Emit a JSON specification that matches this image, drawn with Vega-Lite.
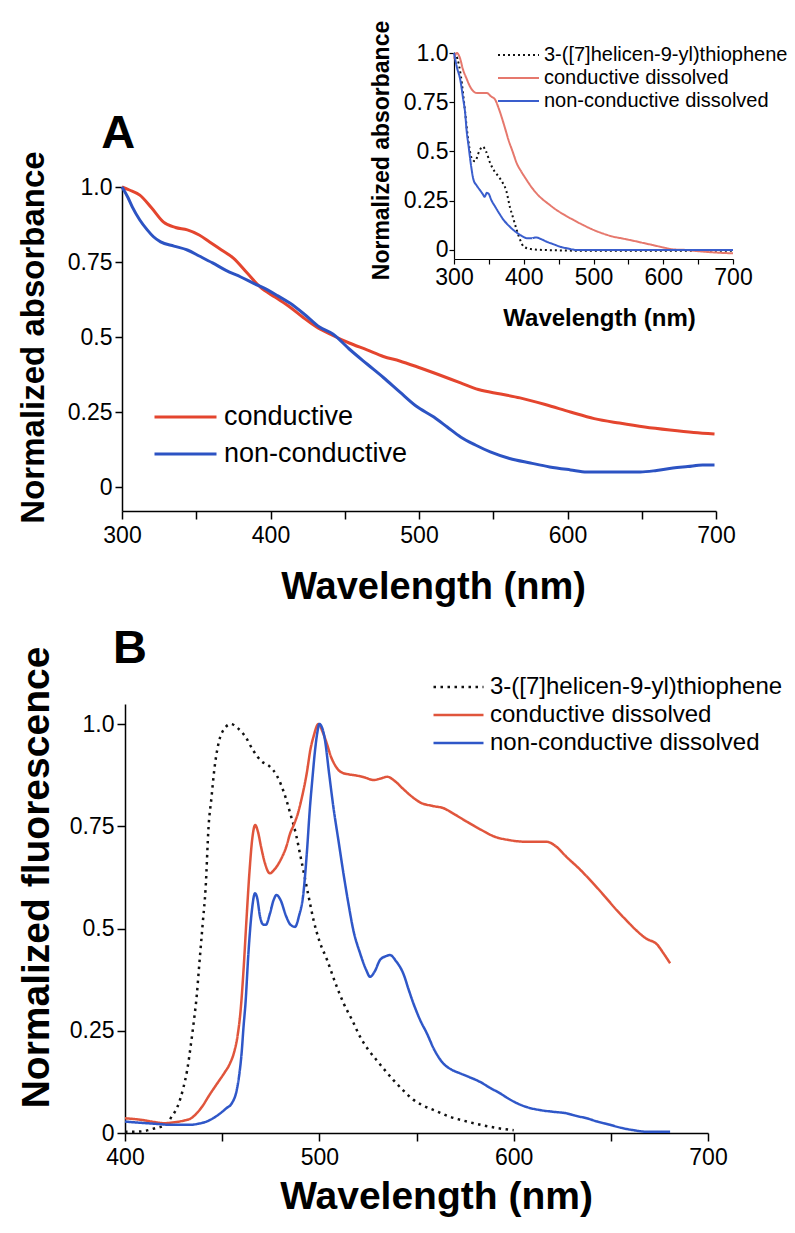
{
"$schema": "https://vega.github.io/schema/vega-lite/v6.json",
"width": 795, "height": 1233,
"autosize": {"type": "none"},
"padding": 0,
"background": "white",
"config": {
  "view": {"stroke": null},
  "axis": {"grid": false, "domainColor": "#000", "domainWidth": 1.5, "tickColor": "#000", "tickWidth": 1.5, "labelColor": "#000", "titleColor": "#000", "labelFont": "Liberation Sans", "titleFont": "Liberation Sans", "labelFontSize": 23, "titleFontWeight": "bold", "labelOverlap": false, "labelBound": false, "labelFlush": false},
  "legend": {"padding": 0, "rowPadding": 0, "labelFont": "Liberation Sans", "labelColor": "#000", "symbolType": "stroke", "labelLimit": 500}
},
"datasets": {
"absorbance": [
{"series":"conductive","wavelength":300,"value":1.0},{"series":"conductive","wavelength":305,"value":0.99},{"series":"conductive","wavelength":312,"value":0.973},{"series":"conductive","wavelength":320,"value":0.93},{"series":"conductive","wavelength":328,"value":0.883},{"series":"conductive","wavelength":336,"value":0.865},{"series":"conductive","wavelength":344,"value":0.857},{"series":"conductive","wavelength":352,"value":0.84},{"series":"conductive","wavelength":359,"value":0.817},{"series":"conductive","wavelength":367,"value":0.79},{"series":"conductive","wavelength":375,"value":0.763},{"series":"conductive","wavelength":384,"value":0.715},{"series":"conductive","wavelength":393,"value":0.667},{"series":"conductive","wavelength":403,"value":0.633},{"series":"conductive","wavelength":413,"value":0.6},{"series":"conductive","wavelength":422,"value":0.565},{"series":"conductive","wavelength":431,"value":0.533},{"series":"conductive","wavelength":442,"value":0.505},{"series":"conductive","wavelength":453,"value":0.48},{"series":"conductive","wavelength":465,"value":0.457},{"series":"conductive","wavelength":476,"value":0.435},{"series":"conductive","wavelength":487,"value":0.42},{"series":"conductive","wavelength":499,"value":0.4},{"series":"conductive","wavelength":513,"value":0.375},{"series":"conductive","wavelength":528,"value":0.347},{"series":"conductive","wavelength":540,"value":0.325},{"series":"conductive","wavelength":555,"value":0.31},{"series":"conductive","wavelength":568,"value":0.297},{"series":"conductive","wavelength":585,"value":0.275},{"series":"conductive","wavelength":602,"value":0.25},{"series":"conductive","wavelength":618,"value":0.228},{"series":"conductive","wavelength":635,"value":0.213},{"series":"conductive","wavelength":652,"value":0.2},{"series":"conductive","wavelength":669,"value":0.19},{"series":"conductive","wavelength":685,"value":0.182},{"series":"conductive","wavelength":699,"value":0.177},
{"series":"non-conductive","wavelength":300,"value":1.0},{"series":"non-conductive","wavelength":304,"value":0.965},{"series":"non-conductive","wavelength":307,"value":0.933},{"series":"non-conductive","wavelength":312,"value":0.89},{"series":"non-conductive","wavelength":317,"value":0.857},{"series":"non-conductive","wavelength":321,"value":0.835},{"series":"non-conductive","wavelength":326,"value":0.817},{"series":"non-conductive","wavelength":335,"value":0.803},{"series":"non-conductive","wavelength":344,"value":0.79},{"series":"non-conductive","wavelength":352,"value":0.77},{"series":"non-conductive","wavelength":361,"value":0.747},{"series":"non-conductive","wavelength":370,"value":0.722},{"series":"non-conductive","wavelength":380,"value":0.7},{"series":"non-conductive","wavelength":389,"value":0.678},{"series":"non-conductive","wavelength":398,"value":0.657},{"series":"non-conductive","wavelength":405,"value":0.637},{"series":"non-conductive","wavelength":413,"value":0.613},{"series":"non-conductive","wavelength":423,"value":0.575},{"series":"non-conductive","wavelength":433,"value":0.533},{"series":"non-conductive","wavelength":442,"value":0.51},{"series":"non-conductive","wavelength":453,"value":0.46},{"series":"non-conductive","wavelength":465,"value":0.41},{"series":"non-conductive","wavelength":476,"value":0.365},{"series":"non-conductive","wavelength":487,"value":0.317},{"series":"non-conductive","wavelength":498,"value":0.27},{"series":"non-conductive","wavelength":510,"value":0.233},{"series":"non-conductive","wavelength":519,"value":0.2},{"series":"non-conductive","wavelength":528,"value":0.167},{"series":"non-conductive","wavelength":538,"value":0.14},{"series":"non-conductive","wavelength":548,"value":0.117},{"series":"non-conductive","wavelength":561,"value":0.095},{"series":"non-conductive","wavelength":575,"value":0.08},{"series":"non-conductive","wavelength":588,"value":0.067},{"series":"non-conductive","wavelength":602,"value":0.057},{"series":"non-conductive","wavelength":613,"value":0.05},{"series":"non-conductive","wavelength":630,"value":0.05},{"series":"non-conductive","wavelength":649,"value":0.05},{"series":"non-conductive","wavelength":660,"value":0.055},{"series":"non-conductive","wavelength":671,"value":0.063},{"series":"non-conductive","wavelength":681,"value":0.068},{"series":"non-conductive","wavelength":691,"value":0.073},{"series":"non-conductive","wavelength":699,"value":0.073}
],
"inset": [
{"series":"3-([7]helicen-9-yl)thiophene","wavelength":300,"value":1.0},{"series":"3-([7]helicen-9-yl)thiophene","wavelength":305,"value":0.97},{"series":"3-([7]helicen-9-yl)thiophene","wavelength":310,"value":0.88},{"series":"3-([7]helicen-9-yl)thiophene","wavelength":315,"value":0.73},{"series":"3-([7]helicen-9-yl)thiophene","wavelength":320,"value":0.57},{"series":"3-([7]helicen-9-yl)thiophene","wavelength":325,"value":0.47},{"series":"3-([7]helicen-9-yl)thiophene","wavelength":330,"value":0.45},{"series":"3-([7]helicen-9-yl)thiophene","wavelength":336,"value":0.5},{"series":"3-([7]helicen-9-yl)thiophene","wavelength":341,"value":0.525},{"series":"3-([7]helicen-9-yl)thiophene","wavelength":346,"value":0.5},{"series":"3-([7]helicen-9-yl)thiophene","wavelength":352,"value":0.44},{"series":"3-([7]helicen-9-yl)thiophene","wavelength":358,"value":0.4},{"series":"3-([7]helicen-9-yl)thiophene","wavelength":364,"value":0.373},{"series":"3-([7]helicen-9-yl)thiophene","wavelength":370,"value":0.34},{"series":"3-([7]helicen-9-yl)thiophene","wavelength":375,"value":0.3},{"series":"3-([7]helicen-9-yl)thiophene","wavelength":380,"value":0.22},{"series":"3-([7]helicen-9-yl)thiophene","wavelength":385,"value":0.16},{"series":"3-([7]helicen-9-yl)thiophene","wavelength":390,"value":0.1},{"series":"3-([7]helicen-9-yl)thiophene","wavelength":395,"value":0.05},{"series":"3-([7]helicen-9-yl)thiophene","wavelength":400,"value":0.017},{"series":"3-([7]helicen-9-yl)thiophene","wavelength":410,"value":0.005},{"series":"3-([7]helicen-9-yl)thiophene","wavelength":430,"value":0.0},{"series":"3-([7]helicen-9-yl)thiophene","wavelength":500,"value":-0.004},{"series":"3-([7]helicen-9-yl)thiophene","wavelength":600,"value":-0.004},{"series":"3-([7]helicen-9-yl)thiophene","wavelength":700,"value":-0.004},
{"series":"conductive dissolved","wavelength":300,"value":0.97},{"series":"conductive dissolved","wavelength":304,"value":1.0},{"series":"conductive dissolved","wavelength":308,"value":0.98},{"series":"conductive dissolved","wavelength":313,"value":0.915},{"series":"conductive dissolved","wavelength":318,"value":0.87},{"series":"conductive dissolved","wavelength":323,"value":0.83},{"series":"conductive dissolved","wavelength":328,"value":0.805},{"series":"conductive dissolved","wavelength":333,"value":0.797},{"series":"conductive dissolved","wavelength":340,"value":0.797},{"series":"conductive dissolved","wavelength":347,"value":0.797},{"series":"conductive dissolved","wavelength":353,"value":0.78},{"series":"conductive dissolved","wavelength":359,"value":0.763},{"series":"conductive dissolved","wavelength":364,"value":0.72},{"series":"conductive dissolved","wavelength":368,"value":0.678},{"series":"conductive dissolved","wavelength":373,"value":0.62},{"series":"conductive dissolved","wavelength":378,"value":0.56},{"series":"conductive dissolved","wavelength":384,"value":0.5},{"series":"conductive dissolved","wavelength":390,"value":0.44},{"series":"conductive dissolved","wavelength":397,"value":0.395},{"series":"conductive dissolved","wavelength":404,"value":0.356},{"series":"conductive dissolved","wavelength":413,"value":0.31},{"series":"conductive dissolved","wavelength":423,"value":0.27},{"series":"conductive dissolved","wavelength":435,"value":0.235},{"series":"conductive dissolved","wavelength":447,"value":0.203},{"series":"conductive dissolved","wavelength":459,"value":0.177},{"series":"conductive dissolved","wavelength":471,"value":0.153},{"series":"conductive dissolved","wavelength":485,"value":0.127},{"series":"conductive dissolved","wavelength":500,"value":0.102},{"series":"conductive dissolved","wavelength":514,"value":0.083},{"series":"conductive dissolved","wavelength":528,"value":0.068},{"series":"conductive dissolved","wavelength":542,"value":0.058},{"series":"conductive dissolved","wavelength":557,"value":0.047},{"series":"conductive dissolved","wavelength":571,"value":0.036},{"series":"conductive dissolved","wavelength":585,"value":0.025},{"series":"conductive dissolved","wavelength":600,"value":0.013},{"series":"conductive dissolved","wavelength":614,"value":0.003},{"series":"conductive dissolved","wavelength":633,"value":0.0},{"series":"conductive dissolved","wavelength":650,"value":-0.006},{"series":"conductive dissolved","wavelength":671,"value":-0.012},{"series":"conductive dissolved","wavelength":700,"value":-0.017},
{"series":"non-conductive dissolved","wavelength":300,"value":1.0},{"series":"non-conductive dissolved","wavelength":304,"value":0.93},{"series":"non-conductive dissolved","wavelength":309,"value":0.864},{"series":"non-conductive dissolved","wavelength":313,"value":0.77},{"series":"non-conductive dissolved","wavelength":316,"value":0.695},{"series":"non-conductive dissolved","wavelength":318,"value":0.61},{"series":"non-conductive dissolved","wavelength":321,"value":0.525},{"series":"non-conductive dissolved","wavelength":324,"value":0.44},{"series":"non-conductive dissolved","wavelength":328,"value":0.356},{"series":"non-conductive dissolved","wavelength":332,"value":0.33},{"series":"non-conductive dissolved","wavelength":337,"value":0.305},{"series":"non-conductive dissolved","wavelength":341,"value":0.285},{"series":"non-conductive dissolved","wavelength":344,"value":0.27},{"series":"non-conductive dissolved","wavelength":347,"value":0.29},{"series":"non-conductive dissolved","wavelength":349,"value":0.288},{"series":"non-conductive dissolved","wavelength":354,"value":0.25},{"series":"non-conductive dissolved","wavelength":359,"value":0.22},{"series":"non-conductive dissolved","wavelength":365,"value":0.185},{"series":"non-conductive dissolved","wavelength":371,"value":0.153},{"series":"non-conductive dissolved","wavelength":378,"value":0.125},{"series":"non-conductive dissolved","wavelength":385,"value":0.102},{"series":"non-conductive dissolved","wavelength":395,"value":0.076},{"series":"non-conductive dissolved","wavelength":406,"value":0.059},{"series":"non-conductive dissolved","wavelength":412,"value":0.06},{"series":"non-conductive dissolved","wavelength":418,"value":0.064},{"series":"non-conductive dissolved","wavelength":425,"value":0.055},{"series":"non-conductive dissolved","wavelength":433,"value":0.042},{"series":"non-conductive dissolved","wavelength":442,"value":0.03},{"series":"non-conductive dissolved","wavelength":452,"value":0.017},{"series":"non-conductive dissolved","wavelength":463,"value":0.008},{"series":"non-conductive dissolved","wavelength":476,"value":0.0},{"series":"non-conductive dissolved","wavelength":550,"value":0.0},{"series":"non-conductive dissolved","wavelength":600,"value":0.0},{"series":"non-conductive dissolved","wavelength":700,"value":0.0}
],
"fluorescence": [
{"series":"3-([7]helicen-9-yl)thiophene","wavelength":400,"value":0.003},{"series":"3-([7]helicen-9-yl)thiophene","wavelength":405,"value":0.003},{"series":"3-([7]helicen-9-yl)thiophene","wavelength":410,"value":0.005},{"series":"3-([7]helicen-9-yl)thiophene","wavelength":415,"value":0.011},{"series":"3-([7]helicen-9-yl)thiophene","wavelength":421,"value":0.02},{"series":"3-([7]helicen-9-yl)thiophene","wavelength":424,"value":0.04},{"series":"3-([7]helicen-9-yl)thiophene","wavelength":427,"value":0.064},{"series":"3-([7]helicen-9-yl)thiophene","wavelength":430,"value":0.11},{"series":"3-([7]helicen-9-yl)thiophene","wavelength":432,"value":0.154},{"series":"3-([7]helicen-9-yl)thiophene","wavelength":434,"value":0.22},{"series":"3-([7]helicen-9-yl)thiophene","wavelength":435.5,"value":0.276},{"series":"3-([7]helicen-9-yl)thiophene","wavelength":437,"value":0.34},{"series":"3-([7]helicen-9-yl)thiophene","wavelength":438,"value":0.399},{"series":"3-([7]helicen-9-yl)thiophene","wavelength":440,"value":0.513},{"series":"3-([7]helicen-9-yl)thiophene","wavelength":441.5,"value":0.6},{"series":"3-([7]helicen-9-yl)thiophene","wavelength":443,"value":0.749},{"series":"3-([7]helicen-9-yl)thiophene","wavelength":444.5,"value":0.82},{"series":"3-([7]helicen-9-yl)thiophene","wavelength":446,"value":0.89},{"series":"3-([7]helicen-9-yl)thiophene","wavelength":448,"value":0.95},{"series":"3-([7]helicen-9-yl)thiophene","wavelength":450,"value":0.98},{"series":"3-([7]helicen-9-yl)thiophene","wavelength":454.5,"value":1.0},{"series":"3-([7]helicen-9-yl)thiophene","wavelength":458,"value":0.99},{"series":"3-([7]helicen-9-yl)thiophene","wavelength":462,"value":0.969},{"series":"3-([7]helicen-9-yl)thiophene","wavelength":466,"value":0.935},{"series":"3-([7]helicen-9-yl)thiophene","wavelength":470,"value":0.91},{"series":"3-([7]helicen-9-yl)thiophene","wavelength":474.5,"value":0.896},{"series":"3-([7]helicen-9-yl)thiophene","wavelength":478,"value":0.875},{"series":"3-([7]helicen-9-yl)thiophene","wavelength":480,"value":0.855},{"series":"3-([7]helicen-9-yl)thiophene","wavelength":483,"value":0.815},{"series":"3-([7]helicen-9-yl)thiophene","wavelength":485,"value":0.782},{"series":"3-([7]helicen-9-yl)thiophene","wavelength":488,"value":0.73},{"series":"3-([7]helicen-9-yl)thiophene","wavelength":490,"value":0.684},{"series":"3-([7]helicen-9-yl)thiophene","wavelength":492.5,"value":0.625},{"series":"3-([7]helicen-9-yl)thiophene","wavelength":494.5,"value":0.578},{"series":"3-([7]helicen-9-yl)thiophene","wavelength":497,"value":0.521},{"series":"3-([7]helicen-9-yl)thiophene","wavelength":500,"value":0.47},{"series":"3-([7]helicen-9-yl)thiophene","wavelength":504,"value":0.423},{"series":"3-([7]helicen-9-yl)thiophene","wavelength":508,"value":0.37},{"series":"3-([7]helicen-9-yl)thiophene","wavelength":512.5,"value":0.317},{"series":"3-([7]helicen-9-yl)thiophene","wavelength":517,"value":0.275},{"series":"3-([7]helicen-9-yl)thiophene","wavelength":521,"value":0.235},{"series":"3-([7]helicen-9-yl)thiophene","wavelength":525,"value":0.205},{"series":"3-([7]helicen-9-yl)thiophene","wavelength":529.5,"value":0.178},{"series":"3-([7]helicen-9-yl)thiophene","wavelength":534,"value":0.152},{"series":"3-([7]helicen-9-yl)thiophene","wavelength":538,"value":0.13},{"series":"3-([7]helicen-9-yl)thiophene","wavelength":543,"value":0.105},{"series":"3-([7]helicen-9-yl)thiophene","wavelength":548.5,"value":0.081},{"series":"3-([7]helicen-9-yl)thiophene","wavelength":553,"value":0.068},{"series":"3-([7]helicen-9-yl)thiophene","wavelength":559,"value":0.056},{"series":"3-([7]helicen-9-yl)thiophene","wavelength":567,"value":0.04},{"series":"3-([7]helicen-9-yl)thiophene","wavelength":576,"value":0.028},{"series":"3-([7]helicen-9-yl)thiophene","wavelength":585,"value":0.018},{"series":"3-([7]helicen-9-yl)thiophene","wavelength":593,"value":0.011},{"series":"3-([7]helicen-9-yl)thiophene","wavelength":600,"value":0.007},
{"series":"conductive dissolved","wavelength":400,"value":0.036},{"series":"conductive dissolved","wavelength":405,"value":0.034},{"series":"conductive dissolved","wavelength":410,"value":0.031},{"series":"conductive dissolved","wavelength":415,"value":0.027},{"series":"conductive dissolved","wavelength":420,"value":0.024},{"series":"conductive dissolved","wavelength":425,"value":0.026},{"series":"conductive dissolved","wavelength":430,"value":0.03},{"series":"conductive dissolved","wavelength":434,"value":0.036},{"series":"conductive dissolved","wavelength":439,"value":0.06},{"series":"conductive dissolved","wavelength":444,"value":0.097},{"series":"conductive dissolved","wavelength":448,"value":0.125},{"series":"conductive dissolved","wavelength":451,"value":0.146},{"series":"conductive dissolved","wavelength":454,"value":0.17},{"series":"conductive dissolved","wavelength":456,"value":0.195},{"series":"conductive dissolved","wavelength":458,"value":0.24},{"series":"conductive dissolved","wavelength":459.5,"value":0.3},{"series":"conductive dissolved","wavelength":461,"value":0.399},{"series":"conductive dissolved","wavelength":462.5,"value":0.521},{"series":"conductive dissolved","wavelength":464,"value":0.635},{"series":"conductive dissolved","wavelength":465.5,"value":0.72},{"series":"conductive dissolved","wavelength":467,"value":0.753},{"series":"conductive dissolved","wavelength":468.5,"value":0.735},{"series":"conductive dissolved","wavelength":470,"value":0.7},{"series":"conductive dissolved","wavelength":472,"value":0.66},{"series":"conductive dissolved","wavelength":474.5,"value":0.635},{"series":"conductive dissolved","wavelength":477,"value":0.645},{"series":"conductive dissolved","wavelength":480,"value":0.667},{"series":"conductive dissolved","wavelength":483,"value":0.7},{"series":"conductive dissolved","wavelength":485,"value":0.733},{"series":"conductive dissolved","wavelength":487,"value":0.755},{"series":"conductive dissolved","wavelength":489,"value":0.782},{"series":"conductive dissolved","wavelength":491,"value":0.82},{"series":"conductive dissolved","wavelength":493.5,"value":0.879},{"series":"conductive dissolved","wavelength":495.5,"value":0.94},{"series":"conductive dissolved","wavelength":497,"value":0.969},{"series":"conductive dissolved","wavelength":499.5,"value":1.0},{"series":"conductive dissolved","wavelength":502,"value":0.977},{"series":"conductive dissolved","wavelength":504,"value":0.95},{"series":"conductive dissolved","wavelength":506,"value":0.92},{"series":"conductive dissolved","wavelength":508,"value":0.9},{"series":"conductive dissolved","wavelength":511,"value":0.883},{"series":"conductive dissolved","wavelength":515,"value":0.877},{"series":"conductive dissolved","wavelength":518,"value":0.875},{"series":"conductive dissolved","wavelength":523,"value":0.87},{"series":"conductive dissolved","wavelength":528,"value":0.863},{"series":"conductive dissolved","wavelength":531,"value":0.866},{"series":"conductive dissolved","wavelength":535,"value":0.871},{"series":"conductive dissolved","wavelength":539,"value":0.86},{"series":"conductive dissolved","wavelength":543,"value":0.842},{"series":"conductive dissolved","wavelength":547,"value":0.825},{"series":"conductive dissolved","wavelength":552,"value":0.808},{"series":"conductive dissolved","wavelength":558,"value":0.8},{"series":"conductive dissolved","wavelength":564,"value":0.794},{"series":"conductive dissolved","wavelength":570,"value":0.778},{"series":"conductive dissolved","wavelength":576,"value":0.761},{"series":"conductive dissolved","wavelength":583,"value":0.742},{"series":"conductive dissolved","wavelength":590,"value":0.725},{"series":"conductive dissolved","wavelength":598,"value":0.716},{"series":"conductive dissolved","wavelength":607,"value":0.712},{"series":"conductive dissolved","wavelength":617,"value":0.712},{"series":"conductive dissolved","wavelength":622,"value":0.7},{"series":"conductive dissolved","wavelength":627,"value":0.676},{"series":"conductive dissolved","wavelength":634,"value":0.645},{"series":"conductive dissolved","wavelength":641,"value":0.61},{"series":"conductive dissolved","wavelength":647,"value":0.578},{"series":"conductive dissolved","wavelength":653,"value":0.545},{"series":"conductive dissolved","wavelength":658,"value":0.52},{"series":"conductive dissolved","wavelength":663,"value":0.496},{"series":"conductive dissolved","wavelength":668,"value":0.476},{"series":"conductive dissolved","wavelength":674,"value":0.46},{"series":"conductive dissolved","wavelength":677,"value":0.44},{"series":"conductive dissolved","wavelength":680.5,"value":0.415},
{"series":"non-conductive dissolved","wavelength":400,"value":0.028},{"series":"non-conductive dissolved","wavelength":405,"value":0.026},{"series":"non-conductive dissolved","wavelength":411,"value":0.024},{"series":"non-conductive dissolved","wavelength":417,"value":0.022},{"series":"non-conductive dissolved","wavelength":423,"value":0.02},{"series":"non-conductive dissolved","wavelength":428,"value":0.02},{"series":"non-conductive dissolved","wavelength":433.5,"value":0.02},{"series":"non-conductive dissolved","wavelength":438,"value":0.023},{"series":"non-conductive dissolved","wavelength":442,"value":0.028},{"series":"non-conductive dissolved","wavelength":446,"value":0.038},{"series":"non-conductive dissolved","wavelength":449,"value":0.048},{"series":"non-conductive dissolved","wavelength":452,"value":0.06},{"series":"non-conductive dissolved","wavelength":455,"value":0.073},{"series":"non-conductive dissolved","wavelength":457.5,"value":0.105},{"series":"non-conductive dissolved","wavelength":459,"value":0.15},{"series":"non-conductive dissolved","wavelength":460,"value":0.195},{"series":"non-conductive dissolved","wavelength":461,"value":0.26},{"series":"non-conductive dissolved","wavelength":462,"value":0.317},{"series":"non-conductive dissolved","wavelength":463.5,"value":0.439},{"series":"non-conductive dissolved","wavelength":465.2,"value":0.54},{"series":"non-conductive dissolved","wavelength":466.9,"value":0.586},{"series":"non-conductive dissolved","wavelength":468,"value":0.575},{"series":"non-conductive dissolved","wavelength":469.5,"value":0.529},{"series":"non-conductive dissolved","wavelength":471,"value":0.51},{"series":"non-conductive dissolved","wavelength":472.5,"value":0.509},{"series":"non-conductive dissolved","wavelength":474.5,"value":0.535},{"series":"non-conductive dissolved","wavelength":476.5,"value":0.57},{"series":"non-conductive dissolved","wavelength":478,"value":0.582},{"series":"non-conductive dissolved","wavelength":480,"value":0.57},{"series":"non-conductive dissolved","wavelength":483,"value":0.529},{"series":"non-conductive dissolved","wavelength":485,"value":0.51},{"series":"non-conductive dissolved","wavelength":487.5,"value":0.504},{"series":"non-conductive dissolved","wavelength":489.5,"value":0.53},{"series":"non-conductive dissolved","wavelength":491.8,"value":0.586},{"series":"non-conductive dissolved","wavelength":493.5,"value":0.68},{"series":"non-conductive dissolved","wavelength":495.2,"value":0.798},{"series":"non-conductive dissolved","wavelength":496.5,"value":0.87},{"series":"non-conductive dissolved","wavelength":497.8,"value":0.936},{"series":"non-conductive dissolved","wavelength":499,"value":0.98},{"series":"non-conductive dissolved","wavelength":500,"value":1.0},{"series":"non-conductive dissolved","wavelength":501.5,"value":0.99},{"series":"non-conductive dissolved","wavelength":502.9,"value":0.961},{"series":"non-conductive dissolved","wavelength":505,"value":0.88},{"series":"non-conductive dissolved","wavelength":507.2,"value":0.798},{"series":"non-conductive dissolved","wavelength":510,"value":0.71},{"series":"non-conductive dissolved","wavelength":512.4,"value":0.635},{"series":"non-conductive dissolved","wavelength":515,"value":0.56},{"series":"non-conductive dissolved","wavelength":517.5,"value":0.496},{"series":"non-conductive dissolved","wavelength":521,"value":0.439},{"series":"non-conductive dissolved","wavelength":524,"value":0.4},{"series":"non-conductive dissolved","wavelength":526.1,"value":0.382},{"series":"non-conductive dissolved","wavelength":528.5,"value":0.395},{"series":"non-conductive dissolved","wavelength":531.2,"value":0.423},{"series":"non-conductive dissolved","wavelength":534,"value":0.432},{"series":"non-conductive dissolved","wavelength":536.4,"value":0.435},{"series":"non-conductive dissolved","wavelength":539.5,"value":0.42},{"series":"non-conductive dissolved","wavelength":543.2,"value":0.39},{"series":"non-conductive dissolved","wavelength":546,"value":0.35},{"series":"non-conductive dissolved","wavelength":548.4,"value":0.317},{"series":"non-conductive dissolved","wavelength":552,"value":0.275},{"series":"non-conductive dissolved","wavelength":555.3,"value":0.244},{"series":"non-conductive dissolved","wavelength":559,"value":0.205},{"series":"non-conductive dissolved","wavelength":563.8,"value":0.17},{"series":"non-conductive dissolved","wavelength":568,"value":0.155},{"series":"non-conductive dissolved","wavelength":572.4,"value":0.146},{"series":"non-conductive dissolved","wavelength":577,"value":0.137},{"series":"non-conductive dissolved","wavelength":582.7,"value":0.125},{"series":"non-conductive dissolved","wavelength":588,"value":0.11},{"series":"non-conductive dissolved","wavelength":593,"value":0.097},{"series":"non-conductive dissolved","wavelength":597,"value":0.085},{"series":"non-conductive dissolved","wavelength":601.6,"value":0.073},{"series":"non-conductive dissolved","wavelength":607,"value":0.063},{"series":"non-conductive dissolved","wavelength":613.6,"value":0.056},{"series":"non-conductive dissolved","wavelength":620,"value":0.052},{"series":"non-conductive dissolved","wavelength":627.3,"value":0.048},{"series":"non-conductive dissolved","wavelength":632,"value":0.042},{"series":"non-conductive dissolved","wavelength":637.6,"value":0.036},{"series":"non-conductive dissolved","wavelength":643,"value":0.028},{"series":"non-conductive dissolved","wavelength":649.6,"value":0.02},{"series":"non-conductive dissolved","wavelength":655,"value":0.013},{"series":"non-conductive dissolved","wavelength":661.6,"value":0.007},{"series":"non-conductive dissolved","wavelength":668.5,"value":0.003},{"series":"non-conductive dissolved","wavelength":675,"value":0.003},{"series":"non-conductive dissolved","wavelength":680.5,"value":0.003}
]
},
"resolve": {"scale": {"x": "independent", "y": "independent", "color": "independent", "strokeDash": "independent"}},
"layer": [
 {
  "layer": [
   {
    "data": {"name": "absorbance"},
    "mark": {"type": "line", "strokeWidth": 3, "interpolate": "monotone"},
    "encoding": {
     "x": {"field": "wavelength", "type": "quantitative",
       "scale": {"domain": [300, 700], "range": [122, 716], "nice": false, "zero": false},
       "axis": {"title": "Wavelength (nm)", "orient": "bottom", "offset": -722, "values": [300,350,400,450,500,550,600,650,700], "labelExpr": "datum.value % 100 === 0 ? datum.label : ''", "tickSize": 8, "labelPadding": 5, "titleFontSize": 38, "titleX": 433, "titleY": 87, "titleBaseline": "alphabetic", "titleAlign": "center"}},
     "y": {"field": "value", "type": "quantitative",
       "scale": {"domain": [-0.08, 1.0], "range": [511, 187], "nice": false, "zero": false},
       "axis": {"title": "Normalized absorbance", "orient": "left", "offset": -122, "values": [0,0.25,0.5,0.75,1], "format": ".2~f", "labelExpr": "datum.value === 1 ? '1.0' : datum.label", "tickSize": 7, "labelPadding": 3, "titleFontSize": 33, "titleAngle": 270, "titleX": -79, "titleY": 337, "titleBaseline": "alphabetic", "titleAlign": "center"}},
     "color": {"field": "series", "type": "nominal",
       "scale": {"domain": ["conductive", "non-conductive"], "range": ["#e4452e", "#2c53c3"]},
       "legend": {"orient": "none", "legendX": 153, "legendY": 398.5, "title": null, "symbolType": "stroke", "symbolSize": 3844, "symbolStrokeWidth": 3, "labelFontSize": 27, "labelOffset": 6, "clipHeight": 37}}
    }
   },
   {
    "data": {"values": [{"label": "A"}]},
    "mark": {"type": "text", "font": "Liberation Sans", "fontWeight": "bold", "fontSize": 47, "align": "left", "baseline": "alphabetic", "color": "#000"},
    "encoding": {
     "x": {"datum": 286, "type": "quantitative"},
     "y": {"datum": 1.13, "type": "quantitative"},
     "text": {"field": "label"}
    }
   }
  ]
 },
 {
  "data": {"name": "inset"},
  "mark": {"type": "line", "strokeWidth": 2, "interpolate": "monotone"},
  "encoding": {
   "x": {"field": "wavelength", "type": "quantitative",
     "scale": {"domain": [300, 700], "range": [454, 733], "nice": false, "zero": false},
     "axis": {"title": "Wavelength (nm)", "orient": "bottom", "offset": -974, "values": [300,350,400,450,500,550,600,650,700], "labelExpr": "datum.value % 100 === 0 ? datum.label : ''", "tickSize": 5, "labelPadding": 2, "domainWidth": 1.2, "tickWidth": 1.2, "titleFontSize": 24, "titleX": 599, "titleY": 66, "titleBaseline": "alphabetic", "titleAlign": "center"}},
   "y": {"field": "value", "type": "quantitative",
     "scale": {"domain": [-0.0457, 1.0], "range": [259, 53], "nice": false, "zero": false},
     "axis": {"title": "Normalized absorbance", "orient": "left", "offset": -454, "values": [0,0.25,0.5,0.75,1], "format": ".2~f", "labelExpr": "datum.value === 1 ? '1.0' : datum.label", "tickSize": 5, "labelPadding": 1, "domainWidth": 1.2, "tickWidth": 1.2, "titleFontSize": 23, "titleAngle": 270, "titleX": -66, "titleY": 150, "titleBaseline": "alphabetic", "titleAlign": "center"}},
   "color": {"field": "series", "type": "nominal",
     "scale": {"range": ["#111111", "#e6786d", "#3a5ecd"]},
     "legend": {"orient": "none", "legendX": 497, "legendY": 43.75, "title": null, "symbolType": "stroke", "symbolSize": 1681, "symbolStrokeWidth": 2, "labelFontSize": 20, "labelOffset": 4, "clipHeight": 22.5}},
   "strokeDash": {"field": "series", "type": "nominal",
     "scale": {"range": [[2, 3], [1, 0], [1, 0]]},
     "legend": {"orient": "none", "legendX": 497, "legendY": 43.75, "title": null, "symbolType": "stroke", "symbolSize": 1681, "symbolStrokeWidth": 2, "labelFontSize": 20, "labelOffset": 4, "clipHeight": 22.5}}
  }
 },
 {
  "layer": [
   {
    "data": {"name": "fluorescence"},
    "mark": {"type": "line", "strokeWidth": 2.5, "interpolate": "monotone"},
    "encoding": {
     "x": {"field": "wavelength", "type": "quantitative",
       "scale": {"domain": [400, 700], "range": [125, 708], "nice": false, "zero": false},
       "axis": {"title": "Wavelength (nm)", "orient": "bottom", "offset": -100, "values": [400,450,500,550,600,650,700], "labelExpr": "datum.value % 100 === 0 ? datum.label : ''", "tickSize": 8, "labelPadding": 5, "titleFontSize": 39, "titleX": 436, "titleY": 75, "titleBaseline": "alphabetic", "titleAlign": "center"}},
     "y": {"field": "value", "type": "quantitative",
       "scale": {"domain": [0, 1.049], "range": [1133, 704], "nice": false, "zero": false},
       "axis": {"title": "Normalized fluorescence", "orient": "left", "offset": -125, "values": [0,0.25,0.5,0.75,1], "format": ".2~f", "labelExpr": "datum.value === 1 ? '1.0' : datum.label", "tickSize": 8, "labelPadding": 3, "titleFontSize": 39, "titleAngle": 270, "titleX": -77, "titleY": 877, "titleBaseline": "alphabetic", "titleAlign": "center"}},
     "color": {"field": "series", "type": "nominal",
       "scale": {"range": ["#111111", "#e0553c", "#2f57c8"]},
       "legend": {"orient": "none", "legendX": 432, "legendY": 673, "title": null, "symbolType": "stroke", "symbolSize": 2500, "symbolStrokeWidth": 2.5, "labelFontSize": 24, "labelOffset": 5, "clipHeight": 28}},
     "strokeDash": {"field": "series", "type": "nominal",
       "scale": {"range": [[2.5, 4.5], [1, 0], [1, 0]]},
       "legend": {"orient": "none", "legendX": 432, "legendY": 673, "title": null, "symbolType": "stroke", "symbolSize": 2500, "symbolStrokeWidth": 2.5, "labelFontSize": 24, "labelOffset": 5, "clipHeight": 28}}
    }
   },
   {
    "data": {"values": [{"label": "B"}]},
    "mark": {"type": "text", "font": "Liberation Sans", "fontWeight": "bold", "fontSize": 47, "align": "left", "baseline": "alphabetic", "color": "#000"},
    "encoding": {
     "x": {"datum": 393.8, "type": "quantitative"},
     "y": {"datum": 1.149, "type": "quantitative"},
     "text": {"field": "label"}
    }
   }
  ]
 }
]
}
